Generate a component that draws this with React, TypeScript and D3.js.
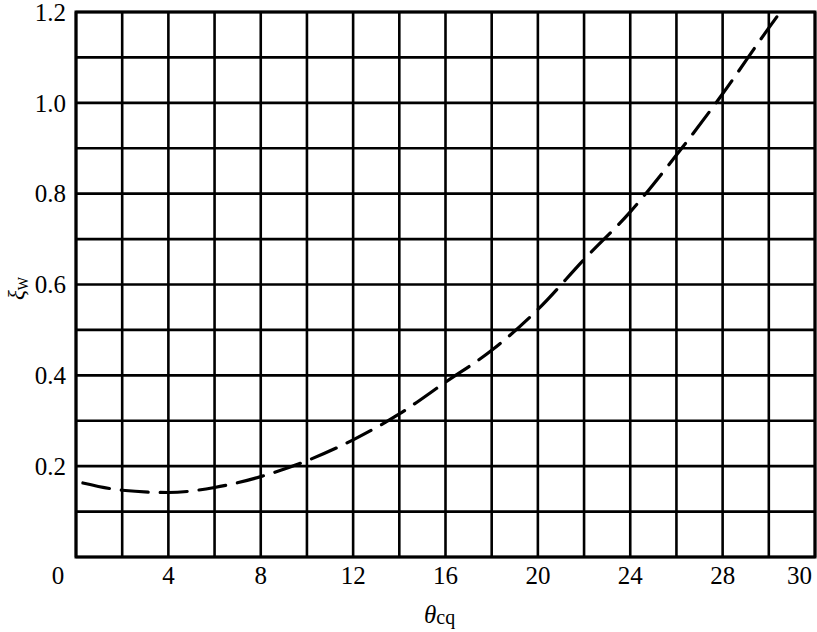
import React from "react";
import * as d3 from "d3";

const xGrid = d3.range(0, 33, 2);
const yGrid = d3.range(0, 1.21, 0.1);
const xTickValues = [4, 8, 12, 16, 20, 24, 28];
const yTickValues = [0.2, 0.4, 0.6, 0.8, 1.0, 1.2];
const curveX = [0.3, 2, 4, 6, 8, 10, 12, 14, 16, 18, 20, 22, 24, 26, 28, 30, 30.5];
const curveY = [0.163, 0.147, 0.142, 0.153, 0.177, 0.212, 0.258, 0.315, 0.385, 0.455, 0.545, 0.655, 0.76, 0.885, 1.02, 1.165, 1.2];

const W = 817;
const H = 632;
const L = 76, R = 815, T = 12, B = 557;

export default function App() {
  const x = d3.scaleLinear().domain([0, 32]).range([L, R]);
  const y = d3.scaleLinear().domain([0, 1.2]).range([B, T]);
  const pts: [number, number][] = curveX.map((v, i) => [v, curveY[i]]);
  const line = d3
    .line<[number, number]>()
    .x((d) => x(d[0]))
    .y((d) => y(d[1]))
    .curve(d3.curveMonotoneX);
  const ts: React.CSSProperties = { fontFamily: "Liberation Serif, DejaVu Serif, serif", fontSize: "25px" };
  return (
    <div style={{ position: "absolute", left: 0, top: 0 }}>
      <svg width={W} height={H} style={{ display: "block", background: "#fff" }}>
        <rect x={0} y={0} width={W} height={H} fill="#fff" />
        {xGrid.map((v) => (
          <line key={"gx" + v} x1={x(v)} x2={x(v)} y1={y(0)} y2={y(1.2)} stroke="#000" strokeWidth={2.6} />
        ))}
        {yGrid.map((v, i) => (
          <line key={"gy" + i} x1={x(0)} x2={x(32)} y1={y(v)} y2={y(v)} stroke="#000" strokeWidth={2.6} />
        ))}
        <rect x={x(0)} y={y(1.2)} width={x(32) - x(0)} height={y(0) - y(1.2)} fill="none" stroke="#000" strokeWidth={3} />
        <path d={line(pts) || ""} fill="none" stroke="#000" strokeWidth={3.2} strokeDasharray="27 12" strokeLinecap="round" />
        {yTickValues.map((v) => (
          <text key={"yt" + v} x={x(0) - 10} y={y(v)} dy="0.35em" textAnchor="end" style={ts}>
            {v.toFixed(1)}
          </text>
        ))}
        <text x={x(0) - 18} y={584} textAnchor="middle" style={ts}>0</text>
        {xTickValues.map((v) => (
          <text key={"xt" + v} x={x(v)} y={584} textAnchor="middle" style={ts}>
            {v}
          </text>
        ))}
        <text x={x(32) - 3} y={584} textAnchor="end" style={ts}>30</text>
        <text x={424} y={623} style={ts}>
          <tspan fontStyle="italic">θ</tspan>
          <tspan style={{ fontSize: "20px" }} dy={1}>cq</tspan>
        </text>
        <text transform="translate(24,300) rotate(-90)" style={{ ...ts, fontSize: "23px" }}>
          <tspan fontStyle="italic">ξ</tspan>
          <tspan style={{ fontSize: "14px" }} dy={4}>W</tspan>
        </text>
      </svg>
    </div>
  );
}
